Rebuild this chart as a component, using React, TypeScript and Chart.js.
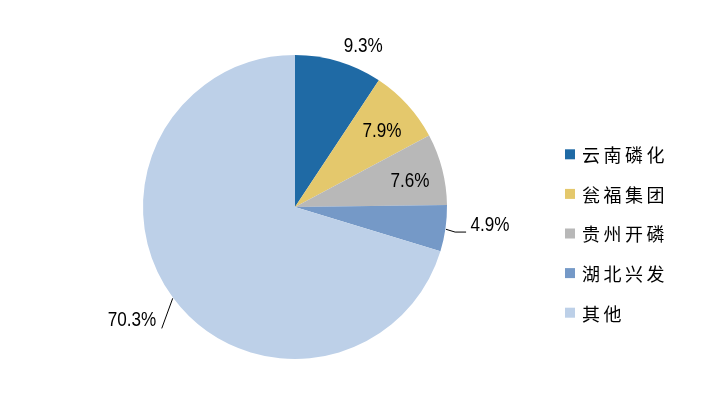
import React, { useEffect, useRef } from "react";
import { Chart, registerables } from "chart.js";

Chart.register(...registerables);

const categories = ["云南磷化", "瓮福集团", "贵州开磷", "湖北兴发", "其他"];
const shares = [9.3, 7.9, 7.6, 4.9, 70.3];
const valueLabels = ["9.3%", "7.9%", "7.6%", "4.9%", "70.3%"];
const colors = ["#1F6AA5", "#E4C86C", "#B8B8B8", "#7599C7", "#BDD0E8"];

// label placement in polar terms relative to each slice's mid-angle
const placements = [
  { r: 1.15, da: 6.2, leader: null as null | number[][], tail: 0 },
  { r: 0.76, da: 1.2, leader: null, tail: 0 },
  { r: 0.774, da: 2.1, leader: null, tail: 0 },
  { r: 1.288, da: -2.8, leader: [[1.004, 0.3], [1.066, 0.8]], tail: 11 },
  { r: 1.305, da: 1.8, leader: [[1.004, -0.2], [1.186, -5.8]], tail: 0 },
];

const labelPlugin = {
  id: "customLabels",
  afterDraw(chart: any) {
    const ctx = chart.ctx;
    const meta = chart.getDatasetMeta(0);
    ctx.save();
    meta.data.forEach((arc: any, i: number) => {
      const p = placements[i];
      const mid = (arc.startAngle + arc.endAngle) / 2;
      const R = arc.outerRadius;
      const pt = (rf: number, daDeg: number) => {
        const a = mid + (daDeg * Math.PI) / 180;
        return [arc.x + rf * R * Math.cos(a), arc.y + rf * R * Math.sin(a)];
      };
      if (p.leader) {
        ctx.beginPath();
        ctx.strokeStyle = "#000";
        ctx.lineWidth = 1;
        const pts = p.leader.map((q) => pt(q[0], q[1]));
        ctx.moveTo(pts[0][0], pts[0][1]);
        for (let k = 1; k < pts.length; k++) ctx.lineTo(pts[k][0], pts[k][1]);
        if (p.tail) {
          const last = pts[pts.length - 1];
          ctx.lineTo(last[0] + p.tail, last[1]);
        }
        ctx.stroke();
      }
      const [lx, ly] = pt(p.r, p.da);
      ctx.save();
      ctx.translate(lx, ly);
      ctx.scale(0.855, 1);
      ctx.fillStyle = "#000";
      ctx.font = "20px 'Liberation Sans', Arial, sans-serif";
      ctx.textAlign = "center";
      ctx.textBaseline = "middle";
      ctx.fillText(valueLabels[i], 0, 0);
      ctx.restore();
    });

    // legend
    const lx = 565;
    const y0 = 154.3;
    const step = 39.6;
    ctx.font = "18px 'Noto Sans CJK SC', sans-serif";
    try { (ctx as any).letterSpacing = "3.5px"; } catch (e) {}
    ctx.textAlign = "left";
    ctx.textBaseline = "middle";
    categories.forEach((c, i) => {
      const y = y0 + i * step;
      ctx.fillStyle = colors[i];
      ctx.fillRect(lx, y - 5, 10, 10);
      ctx.fillStyle = "#000";
      ctx.fillText(c, lx + 17, y + 1);
    });
    ctx.restore();
  },
};

export default function App() {
  const ref = useRef<HTMLCanvasElement | null>(null);
  useEffect(() => {
    if (!ref.current) return;
    const chart = new Chart(ref.current, {
      type: "pie",
      data: {
        labels: categories,
        datasets: [
          {
            data: shares,
            backgroundColor: colors,
            borderWidth: 0,
          },
        ],
      },
      options: {
        responsive: false,
        animation: false,
        layout: { padding: { left: 143, right: 271, top: 55, bottom: 51 } },
        plugins: {
          legend: { display: false },
          tooltip: { enabled: false },
        },
      },
      plugins: [labelPlugin],
    });
    return () => chart.destroy();
  }, []);
  return (
    <div style={{ position: "fixed", left: 0, top: 0, width: 718, height: 410, background: "#fff" }}>
      <canvas ref={ref} width={718} height={410} />
    </div>
  );
}
